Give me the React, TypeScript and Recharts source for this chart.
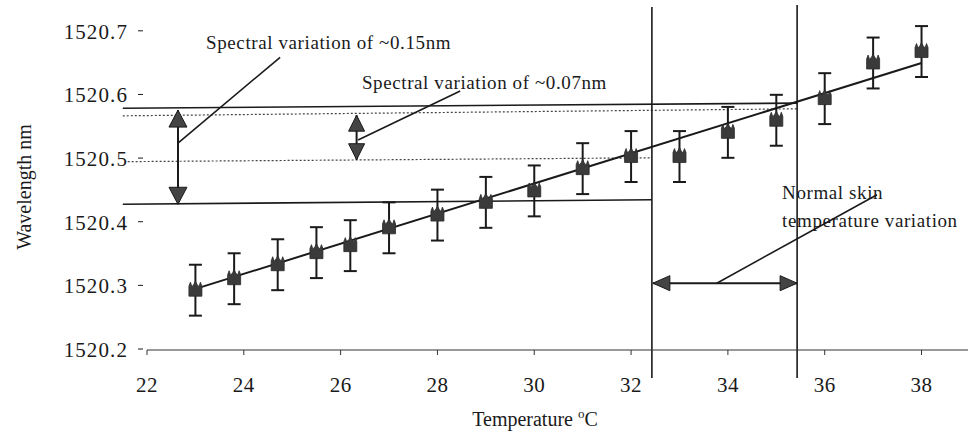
import React from 'react';
import {
  ComposedChart, Scatter, XAxis, YAxis, ErrorBar, ReferenceLine, ReferenceDot, Label,
} from 'recharts';

// ---- data ----
const temperatures = [23, 23.8, 24.7, 25.5, 26.2, 27, 28, 29, 30, 31, 32, 33, 34, 35, 36, 37, 38];
const wavelengths = [1520.294, 1520.312, 1520.334, 1520.353, 1520.364, 1520.392, 1520.412, 1520.432, 1520.45, 1520.485, 1520.504, 1520.504, 1520.542, 1520.561, 1520.595, 1520.651, 1520.669];
const errors = [0.04, 0.04, 0.04, 0.04, 0.04, 0.04, 0.04, 0.04, 0.04, 0.04, 0.04, 0.04, 0.04, 0.04, 0.04, 0.04, 0.04];
const fitTemperatures = [23, 38];
const fitWavelengths = [1520.296, 1520.651];
const xTicks = [22, 24, 26, 28, 30, 32, 34, 36, 38];
const yTicks = [1520.2, 1520.3, 1520.4, 1520.5, 1520.6, 1520.7];

const points = temperatures.map((t, i) => ({ t, wl: wavelengths[i], err: errors[i] }));
const fit = fitTemperatures.map((t, i) => ({ t, wl: fitWavelengths[i] }));

const FONT = '"Liberation Serif", "Times New Roman", serif';
const INK = '#1a1a1a';

const Marker = (p: any) => {
  const { cx, cy } = p;
  if (cx == null || cy == null) return null;
  const d = `M${cx - 6.5},${cy + 6} L${cx - 6.5},${cy - 4} L${cx - 5},${cy - 8} L${cx - 3.5},${cy - 3.5} L${cx - 1.5},${cy - 6} L${cx},${cy - 9} L${cx + 1.5},${cy - 6} L${cx + 3.5},${cy - 3.5} L${cx + 5},${cy - 8} L${cx + 6.5},${cy - 4} L${cx + 6.5},${cy + 6} Z`;
  return <path d={d} fill="#3a3a3a" stroke="#2a2a2a" strokeWidth={0.8} />;
};

const arrowShape = (headLen: number, headW: number) => (p: any) => {
  const { x1, y1, x2, y2 } = p;
  const dx = x2 - x1;
  const dy = y2 - y1;
  const len = Math.sqrt(dx * dx + dy * dy) || 1;
  const ux = dx / len;
  const uy = dy / len;
  const nx = -uy;
  const ny = ux;
  const head = (tx: number, ty: number, sx: number, sy: number) => {
    const bx = tx + sx * headLen;
    const by = ty + sy * headLen;
    return `${tx},${ty} ${bx + nx * headW / 2},${by + ny * headW / 2} ${bx - nx * headW / 2},${by - ny * headW / 2}`;
  };
  return (
    <g>
      <line x1={x1} y1={y1} x2={x2} y2={y2} stroke={INK} strokeWidth={2} />
      <polygon points={head(x1, y1, ux, uy)} fill="#444" stroke={INK} strokeWidth={1} />
      <polygon points={head(x2, y2, -ux, -uy)} fill="#444" stroke={INK} strokeWidth={1} />
    </g>
  );
};

const textShape = (lines: string[], lineGap = 28) => (p: any) => {
  const { cx, cy } = p;
  return (
    <text x={cx} y={cy} fontFamily={FONT} style={{ fontFamily: FONT }} fontSize={19} letterSpacing={0.6} fill={INK}>
      {lines.map((l, i) => (
        <tspan key={i} x={cx} dy={i === 0 ? 0 : lineGap}>{l}</tspan>
      ))}
    </text>
  );
};

const YTick = (p: any) => {
  const { x, y, payload } = p;
  return (
    <g>
      <line x1={x - 5} y1={y - 1} x2={x} y2={y - 1} stroke={INK} strokeWidth={1} />
      <text x={x - 15} y={y} dy={7} textAnchor="end" fontFamily={FONT} style={{ fontFamily: FONT }} fontSize={21} letterSpacing={1.1} fill={INK}>
        {Number(payload.value).toFixed(1)}
      </text>
    </g>
  );
};

const XTick = (p: any) => {
  const { x, y, payload } = p;
  return (
    <text x={x} y={y} dy={37} textAnchor="middle" fontFamily={FONT} style={{ fontFamily: FONT }} fontSize={21} letterSpacing={0.5} fill={INK}>
      {payload.value}
    </text>
  );
};

export default function App() {
  return (
    <div style={{ position: 'absolute', left: 0, top: 0, width: 968, height: 437, background: '#fff' }}>
      <ComposedChart width={968} height={437} data={points} margin={{ top: 0, right: 0, bottom: 37, left: 0 }}>
        <XAxis
          type="number"
          dataKey="t"
          domain={[22, 38.96]}
          ticks={xTicks}
          allowDataOverflow
          tickSize={5}
          tickMargin={0}
          axisLine={{ stroke: '#333', strokeWidth: 1 }}
          tickLine={{ stroke: '#333', strokeWidth: 1 }}
          tick={<XTick />}
          height={50}
        >
          <Label
            content={(lp: any) => {
              const vb = lp.viewBox || { x: 147, y: 350 };
              return (
                <text x={vb.x + 388} y={vb.y + 76} textAnchor="middle" fontFamily={FONT} style={{ fontFamily: FONT }} fontSize={20} fill={INK}>
                  Temperature <tspan dy={-8} fontSize={13}>o</tspan><tspan dy={8}>C</tspan>
                </text>
              );
            }}
          />
        </XAxis>
        <YAxis
          type="number"
          domain={[1520.2, 1520.75]}
          ticks={yTicks}
          allowDataOverflow
          width={147}
          axisLine={false}
          tickLine={false}
          tickSize={4}
          tickMargin={0}
          tick={<YTick />}
        >
          <Label
            content={(lp: any) => {
              const vb = lp.viewBox || { x: 0, y: 0 };
              const x = vb.x + 31;
              const y = 187;
              return (
                <text x={x} y={y} transform={`rotate(-90, ${x}, ${y})`} textAnchor="middle" fontFamily={FONT} style={{ fontFamily: FONT }} fontSize={20} fill={INK}>
                  Wavelength nm
                </text>
              );
            }}
          />
        </YAxis>

        {/* horizontal reference levels */}
        <ReferenceLine segment={[{ x: 21.5, y: 1520.58 }, { x: 35.43, y: 1520.588 }]} ifOverflow="visible" stroke={INK} strokeWidth={1.6} />
        <ReferenceLine segment={[{ x: 21.5, y: 1520.568 }, { x: 35.43, y: 1520.579 }]} ifOverflow="visible" stroke="#444" strokeWidth={1.2} strokeDasharray="2 2" />
        <ReferenceLine segment={[{ x: 21.6, y: 1520.496 }, { x: 32.43, y: 1520.502 }]} ifOverflow="visible" stroke="#444" strokeWidth={1.2} strokeDasharray="2 2" />
        <ReferenceLine segment={[{ x: 21.5, y: 1520.429 }, { x: 32.43, y: 1520.436 }]} ifOverflow="visible" stroke={INK} strokeWidth={1.6} />

        {/* vertical range lines */}
        <ReferenceLine segment={[{ x: 32.43, y: 1520.739 }, { x: 32.43, y: 1520.156 }]} ifOverflow="visible" stroke={INK} strokeWidth={1.6} />
        <ReferenceLine segment={[{ x: 35.43, y: 1520.742 }, { x: 35.43, y: 1520.156 }]} ifOverflow="visible" stroke={INK} strokeWidth={1.6} />

        {/* double arrows */}
        <ReferenceLine segment={[{ x: 22.64, y: 1520.577 }, { x: 22.64, y: 1520.429 }]} ifOverflow="visible" shape={arrowShape(17, 18)} />
        <ReferenceLine segment={[{ x: 26.33, y: 1520.569 }, { x: 26.33, y: 1520.499 }]} ifOverflow="visible" shape={arrowShape(16, 16)} />
        <ReferenceLine segment={[{ x: 32.45, y: 1520.305 }, { x: 35.43, y: 1520.305 }]} ifOverflow="visible" shape={arrowShape(17, 15)} />

        {/* leader lines */}
        <ReferenceLine segment={[{ x: 22.64, y: 1520.525 }, { x: 24.75, y: 1520.66 }]} ifOverflow="visible" stroke={INK} strokeWidth={1.6} />
        <ReferenceLine segment={[{ x: 26.36, y: 1520.53 }, { x: 28.47, y: 1520.607 }]} ifOverflow="visible" stroke={INK} strokeWidth={1.6} />
        <ReferenceLine segment={[{ x: 33.77, y: 1520.305 }, { x: 37.08, y: 1520.444 }]} ifOverflow="visible" stroke={INK} strokeWidth={1.6} />

        {/* annotation texts */}
        <ReferenceDot x={23.22} y={1520.673} r={0} ifOverflow="visible" shape={textShape(['Spectral variation of ~0.15nm'])} />
        <ReferenceDot x={26.44} y={1520.61} r={0} ifOverflow="visible" shape={textShape(['Spectral variation of ~0.07nm'])} />
        <ReferenceDot x={35.12} y={1520.437} r={0} ifOverflow="visible" shape={textShape(['Normal skin', 'temperature variation'])} />

        {/* linear fit */}
        <Scatter data={fit} dataKey="wl" line={{ stroke: INK, strokeWidth: 2 }} shape={() => null} isAnimationActive={false} />

        {/* measurements */}
        <Scatter data={points} dataKey="wl" shape={<Marker />} isAnimationActive={false}>
          <ErrorBar dataKey="err" direction="y" width={6.5} stroke={INK} strokeWidth={2} isAnimationActive={false} />
        </Scatter>
      </ComposedChart>
    </div>
  );
}
